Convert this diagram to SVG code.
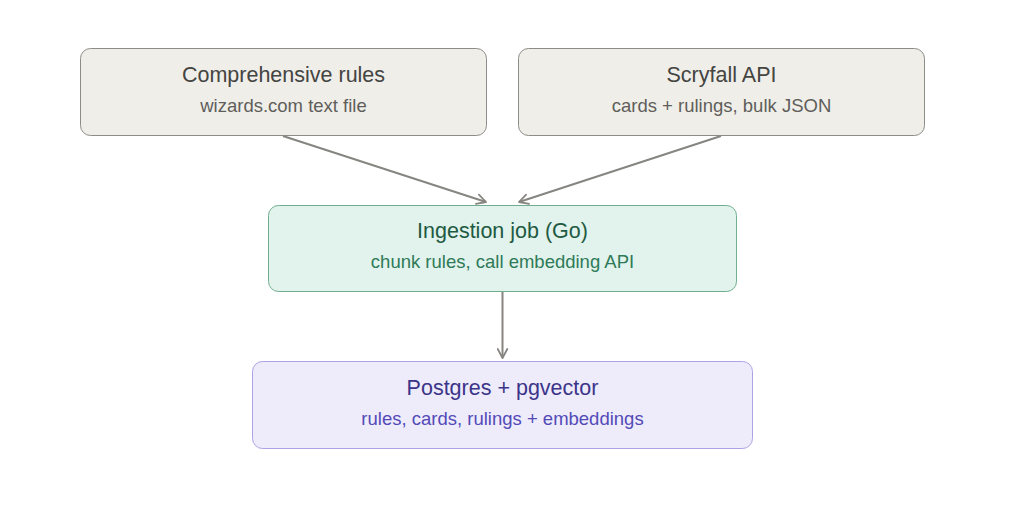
<svg xmlns="http://www.w3.org/2000/svg" width="1024" height="513" viewBox="0 0 1024 513">
<style>
text{font-family:"Liberation Sans",Arial,sans-serif;text-anchor:middle}
.t{font-size:21.5px}
.s{font-size:18.5px}
.gray rect{fill:#efeee9;stroke:#8d8c87;stroke-width:1}
.gray .t{fill:#444441}
.gray .s{fill:#5f5e5a}
.green rect{fill:#e1f3ec;stroke:#6fae8f;stroke-width:1}
.green .t{fill:#1f5a43}
.green .s{fill:#2f7a58}
.purple rect{fill:#eeecfb;stroke:#aaa3e6;stroke-width:1}
.purple .t{fill:#3c3489}
.purple .s{fill:#534ab7}
.edge{stroke:#868580;stroke-width:2;fill:none;marker-end:url(#arr)}
</style>
<defs>
<marker id="arr" viewBox="0 0 10 10" refX="8.5" refY="5" markerWidth="12" markerHeight="12" orient="auto" markerUnits="userSpaceOnUse">
<path d="M1,1 L8.5,5 L1,9" fill="none" stroke="#868580" stroke-width="1.5" stroke-linecap="round" stroke-linejoin="round"/>
</marker>
</defs>
<rect width="1024" height="513" fill="#ffffff"/>
<g id="connectors">
<line class="edge" x1="283" y1="136" x2="486" y2="202"/>
<line class="edge" x1="721" y1="136" x2="519" y2="202"/>
<line class="edge" x1="502.5" y1="292" x2="502.5" y2="358"/>
</g>
<g id="rules" class="gray">
<rect x="80.5" y="48.5" width="406" height="87" rx="10"/>
<text class="t" x="283.5" y="82">Comprehensive rules</text>
<text class="s" x="283.5" y="112">wizards.com text file</text>
</g>
<g id="scryfall" class="gray">
<rect x="518.5" y="48.5" width="406" height="87" rx="10"/>
<text class="t" x="721.5" y="82">Scryfall API</text>
<text class="s" x="721.5" y="112">cards + rulings, bulk JSON</text>
</g>
<g id="ingestion" class="green">
<rect x="268.5" y="205.5" width="468" height="86" rx="10"/>
<text class="t" x="502.5" y="238">Ingestion job (Go)</text>
<text class="s" x="502.5" y="268">chunk rules, call embedding API</text>
</g>
<g id="postgres" class="purple">
<rect x="252.5" y="361.5" width="500" height="87" rx="10"/>
<text class="t" x="502.5" y="395">Postgres + pgvector</text>
<text class="s" x="502.5" y="425">rules, cards, rulings + embeddings</text>
</g>
</svg>
